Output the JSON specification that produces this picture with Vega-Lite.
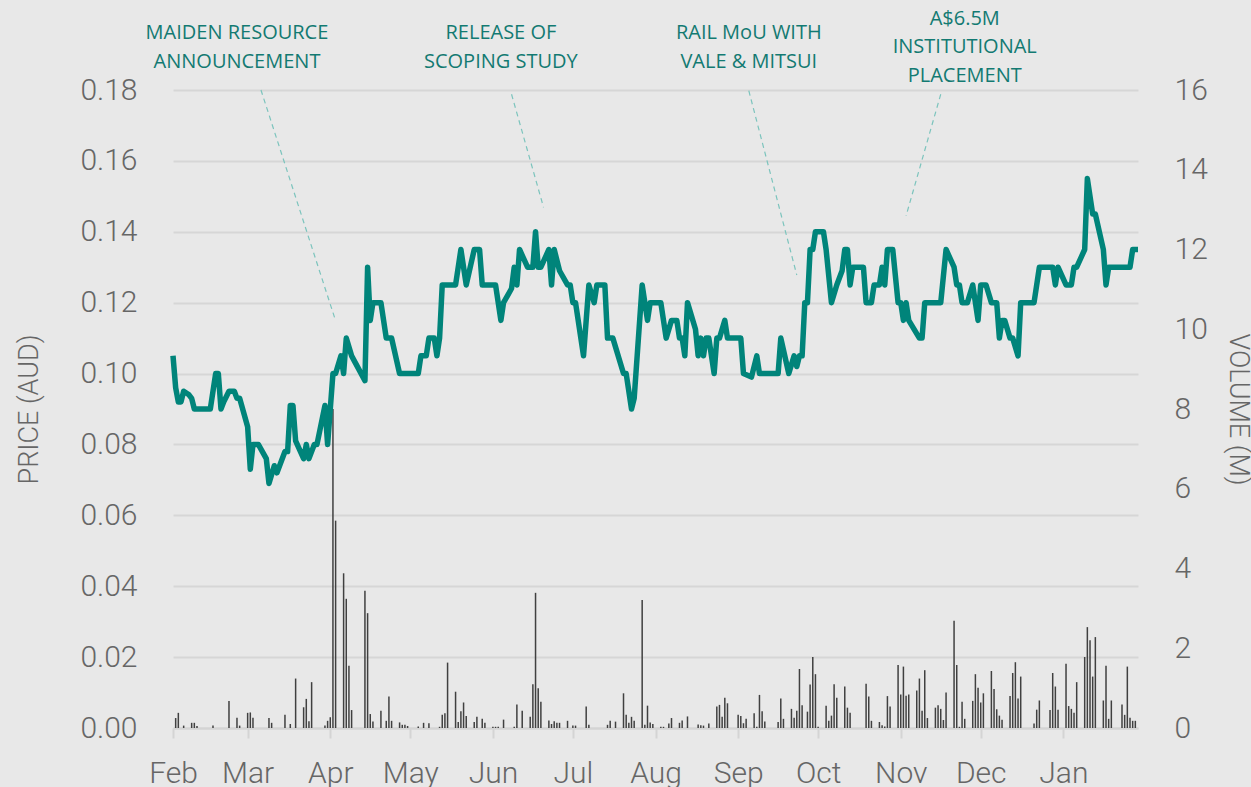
{
"$schema": "https://vega.github.io/schema/vega-lite/v6.json",
"width": 965, "height": 638,
"autosize": {"type": "none"},
"padding": {"left": 173, "top": 90, "right": 113, "bottom": 59},
"background": "#e8e8e8",
"config": {"view": {"stroke": null}, "font": "Roboto"},
"datasets": {
"price": [
{"d":"2018-02-01","p":0.105},{"d":"2018-02-02","p":0.096},{"d":"2018-02-03","p":0.092},{"d":"2018-02-04","p":0.092},{"d":"2018-02-05","p":0.095},{"d":"2018-02-07","p":0.094},{"d":"2018-02-08","p":0.093},{"d":"2018-02-09","p":0.090},{"d":"2018-02-15","p":0.090},{"d":"2018-02-17","p":0.100},{"d":"2018-02-18","p":0.100},{"d":"2018-02-19","p":0.090},{"d":"2018-02-20","p":0.092},{"d":"2018-02-22","p":0.095},{"d":"2018-02-24","p":0.095},{"d":"2018-02-25","p":0.093},{"d":"2018-02-26","p":0.093},
{"d":"2018-03-01","p":0.085},{"d":"2018-03-02","p":0.073},{"d":"2018-03-03","p":0.080},{"d":"2018-03-05","p":0.080},{"d":"2018-03-08","p":0.076},{"d":"2018-03-09","p":0.069},{"d":"2018-03-11","p":0.074},{"d":"2018-03-12","p":0.072},{"d":"2018-03-15","p":0.078},{"d":"2018-03-16","p":0.078},{"d":"2018-03-17","p":0.091},{"d":"2018-03-18","p":0.091},{"d":"2018-03-19","p":0.081},{"d":"2018-03-22","p":0.076},{"d":"2018-03-23","p":0.080},{"d":"2018-03-24","p":0.076},{"d":"2018-03-26","p":0.080},{"d":"2018-03-27","p":0.080},{"d":"2018-03-30","p":0.091},{"d":"2018-03-31","p":0.080},
{"d":"2018-04-02","p":0.100},{"d":"2018-04-03","p":0.100},{"d":"2018-04-05","p":0.105},{"d":"2018-04-06","p":0.100},{"d":"2018-04-07","p":0.110},{"d":"2018-04-09","p":0.105},{"d":"2018-04-14","p":0.098},{"d":"2018-04-15","p":0.130},{"d":"2018-04-16","p":0.115},{"d":"2018-04-17","p":0.120},{"d":"2018-04-20","p":0.120},{"d":"2018-04-21","p":0.115},{"d":"2018-04-22","p":0.110},{"d":"2018-04-24","p":0.110},{"d":"2018-04-27","p":0.100},
{"d":"2018-05-04","p":0.100},{"d":"2018-05-05","p":0.105},{"d":"2018-05-07","p":0.105},{"d":"2018-05-08","p":0.110},{"d":"2018-05-10","p":0.110},{"d":"2018-05-11","p":0.105},{"d":"2018-05-12","p":0.110},{"d":"2018-05-13","p":0.125},{"d":"2018-05-18","p":0.125},{"d":"2018-05-20","p":0.135},{"d":"2018-05-22","p":0.125},{"d":"2018-05-25","p":0.135},{"d":"2018-05-27","p":0.135},{"d":"2018-05-28","p":0.125},
{"d":"2018-06-02","p":0.125},{"d":"2018-06-04","p":0.115},{"d":"2018-06-05","p":0.120},{"d":"2018-06-08","p":0.124},{"d":"2018-06-09","p":0.130},{"d":"2018-06-10","p":0.125},{"d":"2018-06-11","p":0.135},{"d":"2018-06-14","p":0.130},{"d":"2018-06-16","p":0.130},{"d":"2018-06-17","p":0.140},{"d":"2018-06-18","p":0.130},{"d":"2018-06-19","p":0.130},{"d":"2018-06-22","p":0.135},{"d":"2018-06-23","p":0.125},{"d":"2018-06-24","p":0.135},{"d":"2018-06-26","p":0.129},{"d":"2018-06-29","p":0.125},{"d":"2018-06-30","p":0.125},
{"d":"2018-07-01","p":0.120},{"d":"2018-07-02","p":0.120},{"d":"2018-07-05","p":0.105},{"d":"2018-07-07","p":0.125},{"d":"2018-07-09","p":0.120},{"d":"2018-07-10","p":0.125},{"d":"2018-07-13","p":0.125},{"d":"2018-07-14","p":0.110},{"d":"2018-07-16","p":0.110},{"d":"2018-07-20","p":0.100},{"d":"2018-07-21","p":0.100},{"d":"2018-07-23","p":0.090},{"d":"2018-07-24","p":0.093},{"d":"2018-07-27","p":0.125},{"d":"2018-07-29","p":0.115},{"d":"2018-07-30","p":0.120},
{"d":"2018-08-03","p":0.120},{"d":"2018-08-04","p":0.115},{"d":"2018-08-05","p":0.110},{"d":"2018-08-07","p":0.115},{"d":"2018-08-09","p":0.115},{"d":"2018-08-10","p":0.110},{"d":"2018-08-11","p":0.110},{"d":"2018-08-12","p":0.105},{"d":"2018-08-13","p":0.120},{"d":"2018-08-16","p":0.1125},{"d":"2018-08-17","p":0.105},{"d":"2018-08-18","p":0.110},{"d":"2018-08-19","p":0.105},{"d":"2018-08-20","p":0.110},{"d":"2018-08-21","p":0.110},{"d":"2018-08-23","p":0.100},{"d":"2018-08-24","p":0.110},{"d":"2018-08-25","p":0.110},{"d":"2018-08-27","p":0.115},{"d":"2018-08-28","p":0.110},
{"d":"2018-09-02","p":0.110},{"d":"2018-09-03","p":0.100},{"d":"2018-09-06","p":0.099},{"d":"2018-09-08","p":0.105},{"d":"2018-09-09","p":0.100},{"d":"2018-09-16","p":0.100},{"d":"2018-09-17","p":0.110},{"d":"2018-09-20","p":0.100},{"d":"2018-09-22","p":0.105},{"d":"2018-09-23","p":0.102},{"d":"2018-09-24","p":0.105},{"d":"2018-09-25","p":0.105},{"d":"2018-09-26","p":0.120},{"d":"2018-09-27","p":0.120},{"d":"2018-09-28","p":0.135},{"d":"2018-09-29","p":0.135},{"d":"2018-09-30","p":0.140},
{"d":"2018-10-03","p":0.140},{"d":"2018-10-04","p":0.135},{"d":"2018-10-06","p":0.120},{"d":"2018-10-08","p":0.125},{"d":"2018-10-10","p":0.129},{"d":"2018-10-11","p":0.135},{"d":"2018-10-12","p":0.135},{"d":"2018-10-13","p":0.125},{"d":"2018-10-14","p":0.130},{"d":"2018-10-18","p":0.130},{"d":"2018-10-19","p":0.120},{"d":"2018-10-21","p":0.120},{"d":"2018-10-22","p":0.125},{"d":"2018-10-24","p":0.125},{"d":"2018-10-25","p":0.130},{"d":"2018-10-26","p":0.125},{"d":"2018-10-27","p":0.135},{"d":"2018-10-29","p":0.135},{"d":"2018-10-31","p":0.120},
{"d":"2018-11-01","p":0.120},{"d":"2018-11-02","p":0.115},{"d":"2018-11-03","p":0.120},{"d":"2018-11-04","p":0.115},{"d":"2018-11-08","p":0.110},{"d":"2018-11-09","p":0.110},{"d":"2018-11-10","p":0.120},{"d":"2018-11-16","p":0.120},{"d":"2018-11-18","p":0.135},{"d":"2018-11-21","p":0.130},{"d":"2018-11-22","p":0.125},{"d":"2018-11-23","p":0.125},{"d":"2018-11-24","p":0.120},{"d":"2018-11-26","p":0.120},{"d":"2018-11-28","p":0.125},{"d":"2018-11-30","p":0.115},
{"d":"2018-12-01","p":0.125},{"d":"2018-12-03","p":0.125},{"d":"2018-12-05","p":0.120},{"d":"2018-12-07","p":0.120},{"d":"2018-12-08","p":0.110},{"d":"2018-12-09","p":0.115},{"d":"2018-12-10","p":0.115},{"d":"2018-12-12","p":0.110},{"d":"2018-12-13","p":0.110},{"d":"2018-12-15","p":0.105},{"d":"2018-12-16","p":0.120},{"d":"2018-12-21","p":0.120},{"d":"2018-12-23","p":0.130},{"d":"2018-12-28","p":0.130},{"d":"2018-12-29","p":0.125},{"d":"2018-12-30","p":0.130},
{"d":"2019-01-02","p":0.125},{"d":"2019-01-04","p":0.125},{"d":"2019-01-05","p":0.130},{"d":"2019-01-06","p":0.130},{"d":"2019-01-09","p":0.135},{"d":"2019-01-10","p":0.155},{"d":"2019-01-12","p":0.145},{"d":"2019-01-13","p":0.145},{"d":"2019-01-16","p":0.135},{"d":"2019-01-17","p":0.125},{"d":"2019-01-18","p":0.130},{"d":"2019-01-26","p":0.130},{"d":"2019-01-27","p":0.135},{"d":"2019-01-29","p":0.135}
],
"volume": [
{"d":"2018-02-02","v":0.25},{"d":"2018-02-03","v":0.38},{"d":"2018-02-05","v":0.06},{"d":"2018-02-08","v":0.13},{"d":"2018-02-09","v":0.13},{"d":"2018-02-10","v":0.05},{"d":"2018-02-16","v":0.06},{"d":"2018-02-22","v":0.68},{"d":"2018-02-25","v":0.26},{"d":"2018-02-26","v":0.06},
{"d":"2018-03-01","v":0.38},{"d":"2018-03-02","v":0.39},{"d":"2018-03-03","v":0.26},{"d":"2018-03-09","v":0.25},{"d":"2018-03-10","v":0.13},{"d":"2018-03-15","v":0.33},{"d":"2018-03-17","v":0.10},{"d":"2018-03-19","v":1.24},{"d":"2018-03-22","v":0.52},{"d":"2018-03-23","v":0.73},{"d":"2018-03-24","v":0.17},{"d":"2018-03-25","v":1.15},{"d":"2018-03-30","v":0.06},{"d":"2018-03-31","v":0.18},
{"d":"2018-04-01","v":0.27},{"d":"2018-04-02","v":8.0},{"d":"2018-04-03","v":5.2},{"d":"2018-04-06","v":3.88},{"d":"2018-04-07","v":3.24},{"d":"2018-04-08","v":1.56},{"d":"2018-04-09","v":0.45},{"d":"2018-04-14","v":3.44},{"d":"2018-04-15","v":2.88},{"d":"2018-04-16","v":0.35},{"d":"2018-04-17","v":0.16},{"d":"2018-04-20","v":0.43},{"d":"2018-04-22","v":0.18},{"d":"2018-04-23","v":0.79},{"d":"2018-04-24","v":0.18},{"d":"2018-04-27","v":0.14},{"d":"2018-04-28","v":0.08},{"d":"2018-04-29","v":0.08},{"d":"2018-04-30","v":0.05},
{"d":"2018-05-04","v":0.04},{"d":"2018-05-06","v":0.13},{"d":"2018-05-08","v":0.12},{"d":"2018-05-12","v":0.03},{"d":"2018-05-13","v":0.33},{"d":"2018-05-14","v":0.37},{"d":"2018-05-15","v":1.64},{"d":"2018-05-18","v":0.91},{"d":"2018-05-19","v":0.15},{"d":"2018-05-20","v":0.42},{"d":"2018-05-21","v":0.64},{"d":"2018-05-22","v":0.30},{"d":"2018-05-25","v":0.15},{"d":"2018-05-26","v":0.28},{"d":"2018-05-28","v":0.23},{"d":"2018-05-29","v":0.13},
{"d":"2018-06-01","v":0.03},{"d":"2018-06-02","v":0.03},{"d":"2018-06-03","v":0.03},{"d":"2018-06-05","v":0.21},{"d":"2018-06-09","v":0.03},{"d":"2018-06-10","v":0.59},{"d":"2018-06-12","v":0.43},{"d":"2018-06-15","v":0.28},{"d":"2018-06-16","v":1.10},{"d":"2018-06-17","v":3.39},{"d":"2018-06-18","v":1.00},{"d":"2018-06-19","v":0.66},{"d":"2018-06-22","v":0.19},{"d":"2018-06-23","v":0.10},{"d":"2018-06-24","v":0.17},{"d":"2018-06-25","v":0.13},{"d":"2018-06-26","v":0.13},{"d":"2018-06-29","v":0.18},
{"d":"2018-07-01","v":0.06},{"d":"2018-07-02","v":0.06},{"d":"2018-07-06","v":0.54},{"d":"2018-07-07","v":0.08},{"d":"2018-07-14","v":0.08},{"d":"2018-07-15","v":0.18},{"d":"2018-07-17","v":0.16},{"d":"2018-07-20","v":0.87},{"d":"2018-07-21","v":0.33},{"d":"2018-07-22","v":0.13},{"d":"2018-07-23","v":0.28},{"d":"2018-07-24","v":0.18},{"d":"2018-07-27","v":3.21},{"d":"2018-07-28","v":0.08},{"d":"2018-07-29","v":0.56},{"d":"2018-07-30","v":0.14},{"d":"2018-07-31","v":0.10},
{"d":"2018-08-03","v":0.03},{"d":"2018-08-04","v":0.03},{"d":"2018-08-06","v":0.11},{"d":"2018-08-07","v":0.25},{"d":"2018-08-10","v":0.13},{"d":"2018-08-11","v":0.19},{"d":"2018-08-13","v":0.29},{"d":"2018-08-17","v":0.09},{"d":"2018-08-18","v":0.07},{"d":"2018-08-19","v":0.06},{"d":"2018-08-21","v":0.11},{"d":"2018-08-24","v":0.54},{"d":"2018-08-25","v":0.58},{"d":"2018-08-26","v":0.28},{"d":"2018-08-27","v":0.76},{"d":"2018-08-28","v":0.62},
{"d":"2018-09-01","v":0.33},{"d":"2018-09-02","v":0.30},{"d":"2018-09-03","v":0.12},{"d":"2018-09-04","v":0.23},{"d":"2018-09-07","v":0.37},{"d":"2018-09-08","v":0.03},{"d":"2018-09-09","v":0.83},{"d":"2018-09-10","v":0.42},{"d":"2018-09-11","v":0.16},{"d":"2018-09-16","v":0.15},{"d":"2018-09-17","v":0.74},{"d":"2018-09-18","v":0.23},{"d":"2018-09-21","v":0.48},{"d":"2018-09-22","v":0.26},{"d":"2018-09-23","v":0.43},{"d":"2018-09-24","v":1.48},{"d":"2018-09-25","v":0.57},{"d":"2018-09-27","v":0.41},{"d":"2018-09-28","v":1.09},{"d":"2018-09-29","v":1.78},{"d":"2018-09-30","v":1.35},
{"d":"2018-10-01","v":0.03},{"d":"2018-10-04","v":0.56},{"d":"2018-10-05","v":0.18},{"d":"2018-10-06","v":0.31},{"d":"2018-10-07","v":1.10},{"d":"2018-10-08","v":0.76},{"d":"2018-10-11","v":1.04},{"d":"2018-10-12","v":0.51},{"d":"2018-10-13","v":0.38},{"d":"2018-10-19","v":1.11},{"d":"2018-10-20","v":0.79},{"d":"2018-10-21","v":0.18},{"d":"2018-10-24","v":0.15},{"d":"2018-10-25","v":0.07},{"d":"2018-10-26","v":0.04},{"d":"2018-10-27","v":0.80},{"d":"2018-10-28","v":0.54},{"d":"2018-10-31","v":1.58},
{"d":"2018-11-01","v":0.84},{"d":"2018-11-02","v":1.54},{"d":"2018-11-03","v":0.81},{"d":"2018-11-04","v":0.84},{"d":"2018-11-07","v":0.94},{"d":"2018-11-08","v":1.24},{"d":"2018-11-09","v":0.43},{"d":"2018-11-10","v":1.45},{"d":"2018-11-11","v":0.25},{"d":"2018-11-14","v":0.51},{"d":"2018-11-15","v":0.57},{"d":"2018-11-16","v":0.48},{"d":"2018-11-17","v":0.20},{"d":"2018-11-18","v":0.89},{"d":"2018-11-21","v":2.69},{"d":"2018-11-22","v":1.58},{"d":"2018-11-23","v":0.03},{"d":"2018-11-24","v":0.66},{"d":"2018-11-25","v":0.23},{"d":"2018-11-28","v":0.68},{"d":"2018-11-29","v":1.35},{"d":"2018-11-30","v":1.01},
{"d":"2018-12-01","v":0.64},{"d":"2018-12-02","v":0.87},{"d":"2018-12-05","v":1.43},{"d":"2018-12-06","v":0.98},{"d":"2018-12-07","v":0.47},{"d":"2018-12-08","v":0.31},{"d":"2018-12-09","v":0.21},{"d":"2018-12-12","v":0.80},{"d":"2018-12-13","v":1.38},{"d":"2018-12-14","v":1.65},{"d":"2018-12-15","v":0.74},{"d":"2018-12-16","v":1.29},{"d":"2018-12-21","v":0.11},{"d":"2018-12-22","v":0.46},{"d":"2018-12-23","v":0.69},{"d":"2018-12-27","v":0.45},{"d":"2018-12-28","v":1.38},{"d":"2018-12-29","v":1.04},{"d":"2018-12-30","v":0.46},
{"d":"2019-01-02","v":1.61},{"d":"2019-01-03","v":0.55},{"d":"2019-01-04","v":0.48},{"d":"2019-01-05","v":0.38},{"d":"2019-01-06","v":1.15},{"d":"2019-01-09","v":1.78},{"d":"2019-01-10","v":2.53},{"d":"2019-01-11","v":2.20},{"d":"2019-01-12","v":1.29},{"d":"2019-01-13","v":2.28},{"d":"2019-01-16","v":0.69},{"d":"2019-01-17","v":1.56},{"d":"2019-01-18","v":0.23},{"d":"2019-01-19","v":0.69},{"d":"2019-01-23","v":0.59},{"d":"2019-01-24","v":0.33},{"d":"2019-01-25","v":1.54},{"d":"2019-01-26","v":0.26},{"d":"2019-01-27","v":0.18},{"d":"2019-01-28","v":0.18}
],
"leaders": [
{"d":"2018-03-06","p":0.18,"d2":"2018-04-03","p2":0.1149},
{"d":"2018-06-08","p":0.1788,"d2":"2018-06-20","p2":0.1469},
{"d":"2018-09-05","p":0.1798,"d2":"2018-09-23","p2":0.1278},
{"d":"2018-11-16","p":0.1788,"d2":"2018-11-03","p2":0.1445}
],
"labels": [
{"d":"2018-02-25","p":0.1961,"t":"MAIDEN RESOURCE"},
{"d":"2018-02-25","p":0.1879,"t":"ANNOUNCEMENT"},
{"d":"2018-06-04","p":0.1961,"t":"RELEASE OF"},
{"d":"2018-06-04","p":0.1879,"t":"SCOPING STUDY"},
{"d":"2018-09-05","p":0.1961,"t":"RAIL MoU WITH"},
{"d":"2018-09-05","p":0.1879,"t":"VALE & MITSUI"},
{"d":"2018-11-25","p":0.2000,"t":"A$6.5M"},
{"d":"2018-11-25","p":0.1921,"t":"INSTITUTIONAL"},
{"d":"2018-11-25","p":0.1840,"t":"PLACEMENT"}
]
},
"encoding": {
"x": {"field": "d", "type": "temporal", "title": null,
"scale": {"domain": ["2018-02-01", "2019-01-29"], "padding": 0},
"axis": {"format": "%b", "tickCount": {"interval": "month", "step": 1}, "labelFlush": false, "labelOverlap": false,
"grid": false, "domainColor": "#d4d4d4", "domainWidth": 2, "tickColor": "#d4d4d4", "tickWidth": 2, "tickSize": 10,
"labelPadding": 20, "labelFont": "Roboto", "labelFontWeight": 300, "labelFontSize": 30, "labelColor": "#666666"}}
},
"layer": [
{"data": {"name": "volume"},
"mark": {"type": "bar", "size": 1.5, "color": "#404040"},
"encoding": {"y": {"field": "v", "type": "quantitative", "scale": {"domain": [0, 16], "nice": false},
"axis": {"orient": "right", "title": "VOLUME (M)", "values": [0,2,4,6,8,10,12,14,16], "grid": false, "domain": false, "ticks": false, "tickSize": 0,
"labelPadding": 36, "labelFont": "Roboto", "labelFontWeight": 300, "labelFontSize": 30, "labelColor": "#666666",
"titleFont": "Roboto", "titleFontWeight": 300, "titleFontSize": 27, "titleColor": "#666666", "titlePadding": 16}}}},
{"encoding": {"y": {"field": "p", "type": "quantitative", "scale": {"domain": [0, 0.18], "nice": false},
"axis": {"orient": "left", "title": "PRICE (AUD)", "values": [0,0.02,0.04,0.06,0.08,0.1,0.12,0.14,0.16,0.18], "format": ".2f",
"grid": true, "gridColor": "#d6d6d6", "gridWidth": 2, "domain": false, "ticks": false, "tickSize": 0,
"labelPadding": 36, "labelFont": "Roboto", "labelFontWeight": 300, "labelFontSize": 30, "labelColor": "#666666",
"titleFont": "Roboto", "titleFontWeight": 300, "titleFontSize": 27, "titleColor": "#666666", "titlePadding": 36}}},
"layer": [
{"data": {"name": "price"}, "mark": {"type": "line", "color": "#00847a", "strokeWidth": 5.5, "strokeJoin": "round"}},
{"data": {"name": "leaders"}, "mark": {"type": "rule", "color": "#7cc4bd", "strokeWidth": 1.2, "strokeDash": [5, 4]},
"encoding": {"x2": {"field": "d2"}, "y2": {"field": "p2"}}},
{"data": {"name": "labels"}, "mark": {"type": "text", "color": "#137a72", "font": "Open Sans", "fontSize": 20, "align": "center", "baseline": "middle"},
"encoding": {"text": {"field": "t"}}}
]}
],
"resolve": {"scale": {"y": "independent"}, "axis": {"y": "independent"}}
}
